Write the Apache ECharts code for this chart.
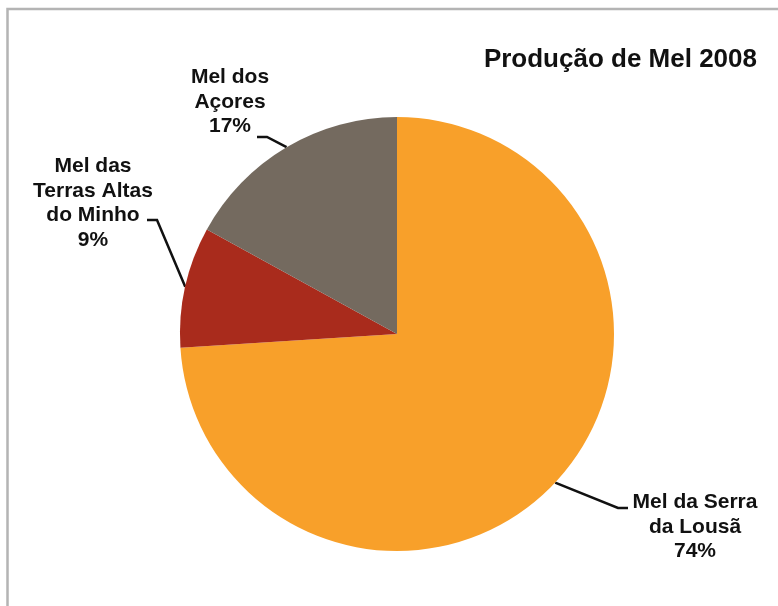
<!DOCTYPE html>
<html>
<head>
<meta charset="utf-8">
<script src="https://cdn.jsdelivr.net/npm/echarts@6/dist/echarts.min.js"></script>
<style>
  html, body { margin: 0; padding: 0; background: #fff; }
  #chart { width: 778px; height: 606px; }
</style>
</head>
<body>
<div id="chart"></div>
<script type="text/javascript">
// dados
var categorias = ['Mel da Serra\nda Lousã', 'Mel das\nTerras Altas\ndo Minho', 'Mel dos\nAçores'];
var valores = [74, 9, 17];
var cores = ['#F8A02A', '#A92B1C', '#746A5F'];
var titulo = 'Produção de Mel 2008';

// posição dos rótulos (centro do bloco) e ponto onde a linha toca o texto
var rotulos = [
    { x: 695, y: 527, lx: 628, ly: 508, dir: 1 },
    { x: 93, y: 203, lx: 147, ly: 220, dir: -1 },
    { x: 230, y: 102, lx: 257, ly: 137, dir: -1 }
];

var myChart = echarts.init(document.getElementById('chart'));

var dados = [];
for (var i = 0; i < categorias.length; i++) {
    dados.push({ name: categorias[i], value: valores[i], itemStyle: { color: cores[i] } });
}

var option = {
    backgroundColor: '#fff',
    animation: false,
    title: {
        text: titulo,
        right: 16,
        top: 42,
        textStyle: {
            fontFamily: 'Liberation Sans, Arial, sans-serif',
            fontSize: 26,
            fontWeight: 'bold',
            color: '#111'
        }
    },
    graphic: [{
        type: 'rect',
        shape: { x: 7.5, y: 9, width: 820, height: 700 },
        style: { fill: 'none', stroke: '#b4b4b4', lineWidth: 2.5 },
        silent: true
    }],
    series: [{
        type: 'pie',
        center: [397, 334],
        radius: [0, 217],
        startAngle: 90,
        clockwise: true,
        data: dados,
        itemStyle: { borderWidth: 0 },
        label: {
            show: true,
            position: 'outside',
            formatter: '{b}\n{d}%',
            fontFamily: 'Liberation Sans, Arial, sans-serif',
            fontSize: 21,
            fontWeight: 'bold',
            lineHeight: 24.5,
            align: 'center',
            color: '#111'
        },
        labelLine: {
            show: true,
            length: 20,
            length2: 10,
            lineStyle: { color: '#111', width: 2.5 }
        },
        labelLayout: function (params) {
            var r = rotulos[params.dataIndex];
            var pts = params.labelLinePoints;
            var p0 = pts ? pts[0] : [r.lx, r.ly];
            return {
                x: r.x,
                y: r.y,
                align: 'center',
                verticalAlign: 'middle',
                labelLinePoints: [
                    p0,
                    [r.lx - r.dir * 10, r.ly],
                    [r.lx, r.ly]
                ]
            };
        }
    }]
};

myChart.setOption(option);
</script>
</body>
</html>
